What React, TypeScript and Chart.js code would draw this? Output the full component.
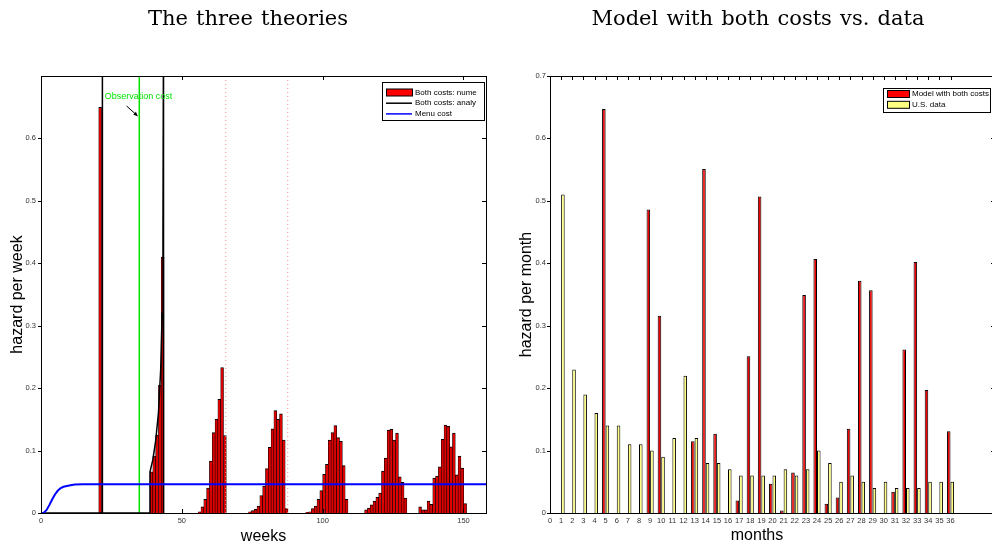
import React, { useEffect, useRef } from "react";
import { Chart, registerables } from "chart.js";

Chart.register(...registerables);

// ---------------- Left panel: "The three theories" ----------------
const weekTicks = [0, 50, 100, 150];
const weekHazardTicks = [0, 0.1, 0.2, 0.3, 0.4, 0.5, 0.6];

// numerical histogram (both costs)
const numericWeeks = [
  21.0,
  39.2, 40.2, 41.2, 42.2, 43.2,
  56.3, 57.3, 58.3, 59.3, 60.3, 61.3, 62.3, 63.3, 64.3, 65.3,
  74.2, 75.2, 76.2, 77.2, 78.2, 79.2, 80.2, 81.2, 82.2, 83.2, 84.2, 85.2, 86.2, 87.2,
  94.5, 95.5, 96.5, 97.5, 98.5, 99.5, 100.5, 101.5, 102.5, 103.5, 104.5, 105.5, 106.5, 107.5, 108.5,
  115.4, 116.4, 117.4, 118.4, 119.4, 120.4, 121.4, 122.4, 123.4, 124.4, 125.4, 126.4, 127.4, 128.4, 129.4,
  134.6, 135.6, 136.6, 137.6, 138.6, 139.6, 140.6, 141.6, 142.6, 143.6, 144.6, 145.6, 146.6, 147.6, 148.6, 149.6, 150.6,
];
const numericHazard = [
  0.65,
  0.066, 0.091, 0.125, 0.205, 0.41,
  0.002, 0.01, 0.022, 0.04, 0.083, 0.129, 0.15, 0.182, 0.233, 0.124,
  0.002, 0.004, 0.006, 0.011, 0.028, 0.043, 0.071, 0.105, 0.135, 0.164, 0.15, 0.159, 0.117, 0.007,
  0.001, 0.002, 0.007, 0.011, 0.022, 0.036, 0.062, 0.078, 0.117, 0.129, 0.14, 0.121, 0.115, 0.076, 0.022,
  0.005, 0.008, 0.013, 0.019, 0.025, 0.032, 0.067, 0.088, 0.133, 0.134, 0.117, 0.128, 0.058, 0.049, 0.024,
  0.01, 0.005, 0.005, 0.019, 0.014, 0.056, 0.059, 0.074, 0.118, 0.141, 0.139, 0.106, 0.128, 0.061, 0.091, 0.072, 0.015,
];

// analytical solution (both costs)
const analyticWeeks = [0, 21.8, 21.8, 21.8, 38.7, 38.7, 39.7, 40.7, 41.7, 42.5, 43.0, 43.3, 43.5, 43.5];
const analyticHazard = [0, 0, 0.8, 0, 0, 0.066, 0.085, 0.115, 0.16, 0.23, 0.32, 0.45, 0.8, 0];

// menu cost hazard
const menuWeeks = [0, 1, 2, 3, 4, 5, 6, 7, 8, 10, 12, 15, 158];
const menuHazard = [0, 0.0005, 0.005, 0.013, 0.022, 0.03, 0.036, 0.04, 0.042, 0.044, 0.0455, 0.046, 0.046];

// observation cost marker and review dates
const observationWeek = 34.9;
const reviewWeeks = [65.6, 87.6];

// ---------------- Right panel: "Model with both costs vs. data" ----------------
const months = Array.from({ length: 36 }, (_, i) => i + 1);
const monthTicks = Array.from({ length: 37 }, (_, i) => i);
const monthHazardTicks = [0, 0.1, 0.2, 0.3, 0.4, 0.5, 0.6, 0.7];
const modelHazard = [
  0, 0, 0, 0, 0.647, 0, 0, 0, 0.486, 0.316, 0, 0, 0.115, 0.551, 0.127, 0, 0.02, 0.251,
  0.507, 0.047, 0.004, 0.065, 0.349, 0.407, 0.015, 0.025, 0.135, 0.372, 0.357, 0, 0.034, 0.262,
  0.402, 0.197, 0, 0.131,
];
const usHazard = [
  0.51, 0.23, 0.19, 0.16, 0.14, 0.14, 0.11, 0.11, 0.1, 0.09, 0.12, 0.22, 0.12, 0.08, 0.08, 0.07,
  0.06, 0.06, 0.06, 0.06, 0.07, 0.06, 0.07, 0.1, 0.08, 0.05, 0.06, 0.05, 0.04, 0.05, 0.04, 0.04,
  0.04, 0.05, 0.05, 0.05,
];

const SANS = '"Liberation Sans", Arial, sans-serif';

type FrameCfg = { top: number[]; bottom: number[]; right: number[]; left: number[]; len: number; outLen: number };

function framePlugin(cfg: FrameCfg) {
  return {
    id: "frame",
    afterDatasetsDraw(chart: any) {
      const { ctx, chartArea: a } = chart;
      const x = chart.scales.x;
      const y = chart.scales.y;
      ctx.save();
      ctx.strokeStyle = "#000";
      ctx.lineWidth = 1;
      ctx.beginPath();
      for (const v of cfg.top) {
        const px = Math.round(x.getPixelForValue(v)) + 0.5;
        ctx.moveTo(px, a.top);
        ctx.lineTo(px, a.top + cfg.len);
      }
      for (const v of cfg.bottom) {
        const px = Math.round(x.getPixelForValue(v)) + 0.5;
        ctx.moveTo(px, a.bottom);
        ctx.lineTo(px, a.bottom - cfg.len);
      }
      for (const v of cfg.right) {
        const py = Math.round(y.getPixelForValue(v)) + 0.5;
        ctx.moveTo(a.right, py);
        ctx.lineTo(a.right - cfg.len, py);
      }
      for (const v of cfg.left) {
        const py = Math.round(y.getPixelForValue(v)) + 0.5;
        ctx.moveTo(a.left, py);
        ctx.lineTo(a.left - cfg.outLen, py);
      }
      ctx.stroke();
      ctx.strokeRect(Math.round(a.left) + 0.5, Math.round(a.top) + 0.5, Math.round(a.right - a.left), Math.round(a.bottom - a.top));
      ctx.restore();
    },
  };
}

type LegendItem = { label: string; kind: "rect" | "line"; color: string };
function legendPlugin(items: LegendItem[], box: { x: number; y: number; w: number; h: number; first: number; step: number; sw: number }) {
  return {
    id: "customLegend",
    afterDraw(chart: any) {
      const ctx = chart.ctx;
      ctx.save();
      ctx.fillStyle = "#fff";
      ctx.fillRect(box.x, box.y, box.w, box.h);
      ctx.strokeStyle = "#000";
      ctx.lineWidth = 1;
      ctx.strokeRect(box.x + 0.5, box.y + 0.5, box.w, box.h);
      items.forEach((it, i) => {
        const cy = box.y + box.first + i * box.step;
        const sx = box.x + 4;
        if (it.kind === "rect") {
          ctx.fillStyle = it.color;
          ctx.fillRect(sx, cy - 3.5, box.sw, 7);
          ctx.strokeStyle = "#000";
          ctx.strokeRect(sx + 0.5, cy - 3.5, box.sw, 7);
        } else {
          ctx.strokeStyle = it.color;
          ctx.lineWidth = 1.5;
          ctx.beginPath();
          ctx.moveTo(sx, cy);
          ctx.lineTo(sx + box.sw, cy);
          ctx.stroke();
          ctx.lineWidth = 1;
        }
        ctx.fillStyle = "#000";
        ctx.font = `8px ${SANS}`;
        ctx.textBaseline = "middle";
        ctx.textAlign = "left";
        ctx.fillText(it.label, sx + box.sw + 3, cy);
      });
      ctx.restore();
    },
  };
}

const observationLabel = { week: 22.6, hazard: 0.667, text: "Observation cost" };
const observationArrow = { fromWeek: 30.4, fromHazard: 0.652, toWeek: 34.3, toHazard: 0.636 };

const annotationPlugin = {
  id: "obsAnnotation",
  afterDatasetsDraw(chart: any) {
    const { ctx } = chart;
    const x = chart.scales.x;
    const y = chart.scales.y;
    ctx.save();
    ctx.fillStyle = "#00e000";
    ctx.font = `9px ${SANS}`;
    ctx.textBaseline = "middle";
    ctx.textAlign = "left";
    ctx.fillText(observationLabel.text, x.getPixelForValue(observationLabel.week), y.getPixelForValue(observationLabel.hazard));
    const x0 = x.getPixelForValue(observationArrow.fromWeek);
    const y0 = y.getPixelForValue(observationArrow.fromHazard);
    const x1 = x.getPixelForValue(observationArrow.toWeek);
    const y1 = y.getPixelForValue(observationArrow.toHazard);
    ctx.strokeStyle = "#000";
    ctx.fillStyle = "#000";
    ctx.lineWidth = 1;
    ctx.beginPath();
    ctx.moveTo(x0, y0);
    ctx.lineTo(x1, y1);
    ctx.stroke();
    const ang = Math.atan2(y1 - y0, x1 - x0);
    const hl = 4.5;
    ctx.beginPath();
    ctx.moveTo(x1, y1);
    ctx.lineTo(x1 - hl * Math.cos(ang - 0.45), y1 - hl * Math.sin(ang - 0.45));
    ctx.lineTo(x1 - hl * Math.cos(ang + 0.45), y1 - hl * Math.sin(ang + 0.45));
    ctx.closePath();
    ctx.fill();
    ctx.restore();
  },
};

const monthsTitlePlugin = {
  id: "monthsTitle",
  afterDraw(chart: any) {
    const ctx = chart.ctx;
    ctx.save();
    ctx.fillStyle = "#000";
    ctx.font = `16px ${SANS}`;
    ctx.textAlign = "center";
    ctx.textBaseline = "middle";
    ctx.fillText("months", 257, 536);
    ctx.restore();
  },
};

const fmt = (v: number) => String(Math.round(v * 10) / 10);
const noGrid = { display: false, drawTicks: false, tickLength: 0 };
const tickFont = { family: SANS, size: 7.5 };

function makeLeftConfig(): any {
  return {
    type: "bar",
    data: {
      datasets: [
        {
          type: "line",
          label: "Menu cost",
          data: menuWeeks.map((w, i) => ({ x: w, y: menuHazard[i] })),
          borderColor: "#0000ff",
          borderWidth: 2,
          pointRadius: 0,
          tension: 0,
          order: 0,
        },
        {
          type: "line",
          label: "Both costs: analy",
          data: analyticWeeks.map((w, i) => ({ x: w, y: analyticHazard[i] })),
          borderColor: "#000",
          borderWidth: 1.5,
          pointRadius: 0,
          tension: 0,
          order: 1,
        },
        {
          type: "line",
          label: "Observation cost",
          data: [
            { x: observationWeek, y: 0 },
            { x: observationWeek, y: 0.7 },
          ],
          borderColor: "#00e000",
          borderWidth: 1.5,
          pointRadius: 0,
          order: 2,
        },
        ...reviewWeeks.map((w, k) => ({
          type: "line",
          label: "review " + k,
          data: [
            { x: w, y: 0 },
            { x: w, y: 0.7 },
          ],
          borderColor: "#ff8c8c",
          borderDash: [1, 3],
          borderWidth: 1,
          pointRadius: 0,
          order: 3,
        })),
        {
          type: "bar",
          label: "Both costs: nume",
          data: numericWeeks.map((w, i) => ({ x: w, y: numericHazard[i] })),
          backgroundColor: "#dd0000",
          borderColor: "#000",
          borderWidth: { top: 1, left: 0.6, right: 0.6, bottom: 0 },
          borderSkipped: false,
          categoryPercentage: 1,
          barPercentage: 1,
          order: 10,
        },
      ],
    },
    options: {
      responsive: false,
      maintainAspectRatio: false,
      animation: false,
      events: [],
      layout: { padding: { left: 0, right: 14, top: 76, bottom: 0 } },
      plugins: { legend: { display: false }, tooltip: { enabled: false }, title: { display: false } },
      scales: {
        x: {
          type: "linear",
          min: 0,
          max: 158,
          offset: false,
          grid: noGrid,
          border: { display: false },
          afterBuildTicks: (s: any) => {
            s.ticks = weekTicks.map((v) => ({ value: v }));
          },
          afterFit: (s: any) => {
            s.height = 33;
          },
          ticks: { font: tickFont, color: "#333", padding: 3, maxRotation: 0, autoSkip: false, callback: (v: number) => fmt(v) },
          title: { display: true, text: "weeks", font: { family: SANS, size: 16 }, color: "#000", padding: { top: 0, bottom: 0 } },
        },
        y: {
          type: "linear",
          min: 0,
          max: 0.7,
          grid: noGrid,
          border: { display: false },
          afterBuildTicks: (s: any) => {
            s.ticks = weekHazardTicks.map((v) => ({ value: v }));
          },
          afterFit: (s: any) => {
            s.width = 41;
          },
          ticks: { font: tickFont, color: "#333", padding: 5, autoSkip: false, callback: (v: number) => fmt(v) },
          title: { display: true, text: "hazard per week", font: { family: SANS, size: 16 }, color: "#000", padding: { top: 8, bottom: 0 } },
        },
      },
    },
    plugins: [
      framePlugin({ top: weekTicks, bottom: weekTicks, right: weekHazardTicks, left: weekHazardTicks, len: 4, outLen: 3 }),
      annotationPlugin,
      legendPlugin(
        [
          { label: "Both costs: nume", kind: "rect", color: "#ff0000" },
          { label: "Both costs: analy", kind: "line", color: "#000" },
          { label: "Menu cost", kind: "line", color: "#0000ff" },
        ],
        { x: 382, y: 82, w: 102, h: 38, first: 10.5, step: 10.7, sw: 26 }
      ),
    ],
  };
}

function makeRightConfig(): any {
  return {
    type: "bar",
    data: {
      datasets: [
        {
          label: "Model with both costs",
          data: months.map((m, i) => ({ x: m, y: modelHazard[i] })),
          backgroundColor: "#ee0000",
          borderColor: "#000",
          borderWidth: 1,
          borderSkipped: "bottom",
          categoryPercentage: 0.64,
          barPercentage: 1,
        },
        {
          label: "U.S. data",
          data: months.map((m, i) => ({ x: m, y: usHazard[i] })),
          backgroundColor: "#ffff80",
          borderColor: "#000",
          borderWidth: 1,
          borderSkipped: "bottom",
          categoryPercentage: 0.64,
          barPercentage: 1,
        },
      ],
    },
    options: {
      responsive: false,
      maintainAspectRatio: false,
      animation: false,
      events: [],
      layout: { padding: { left: 0, right: 5, top: 76, bottom: 0 } },
      plugins: { legend: { display: false }, tooltip: { enabled: false }, title: { display: false } },
      scales: {
        x: {
          type: "linear",
          min: 0,
          max: 40,
          offset: false,
          grid: noGrid,
          border: { display: false },
          afterBuildTicks: (s: any) => {
            s.ticks = monthTicks.map((v) => ({ value: v }));
          },
          afterFit: (s: any) => {
            s.height = 33;
          },
          ticks: { font: tickFont, color: "#333", padding: 3, maxRotation: 0, autoSkip: false, callback: (v: number) => fmt(v) },
          title: { display: false },
        },
        y: {
          type: "linear",
          min: 0,
          max: 0.7,
          grid: noGrid,
          border: { display: false },
          afterBuildTicks: (s: any) => {
            s.ticks = monthHazardTicks.map((v) => ({ value: v }));
          },
          afterFit: (s: any) => {
            s.width = 50;
          },
          ticks: { font: tickFont, color: "#333", padding: 4, autoSkip: false, callback: (v: number) => fmt(v) },
          title: { display: true, text: "hazard per month", font: { family: SANS, size: 16 }, color: "#000", padding: { top: 17, bottom: 0 } },
        },
      },
    },
    plugins: [
      framePlugin({ top: monthTicks, bottom: [], right: monthHazardTicks, left: monthHazardTicks, len: 4, outLen: 3 }),
      monthsTitlePlugin,
      legendPlugin(
        [
          { label: "Model with both costs", kind: "rect", color: "#ff0000" },
          { label: "U.S. data", kind: "rect", color: "#ffff80" },
        ],
        { x: 383, y: 88, w: 107, h: 24, first: 6, step: 10.8, sw: 22 }
      ),
    ],
  };
}

function ChartCanvas({ make, left, width }: { make: () => any; left: number; width: number }) {
  const ref = useRef<HTMLCanvasElement | null>(null);
  useEffect(() => {
    if (!ref.current) return;
    const chart = new Chart(ref.current, make());
    return () => chart.destroy();
  }, [make]);
  return (
    <canvas
      ref={ref}
      width={width}
      height={546}
      style={{ position: "absolute", left, top: 0, width, height: 546, display: "block" }}
    />
  );
}

const titleStyle = (cx: number): React.CSSProperties => ({
  position: "absolute",
  left: cx - 250,
  width: 500,
  top: 6,
  textAlign: "center",
  fontFamily: '"DejaVu Serif", serif',
  fontSize: 21,
  wordSpacing: "1.5px",
  lineHeight: "24px",
  color: "#000",
  whiteSpace: "nowrap",
});

export default function App() {
  return (
    <div style={{ position: "fixed", left: 0, top: 0, width: 992, height: 546, overflow: "hidden", background: "#fff" }}>
      <ChartCanvas make={makeLeftConfig} left={0} width={500} />
      <ChartCanvas make={makeRightConfig} left={500} width={500} />
      <div style={titleStyle(248)}>The three theories</div>
      <div style={titleStyle(758)}>Model with both costs vs. data</div>
    </div>
  );
}
